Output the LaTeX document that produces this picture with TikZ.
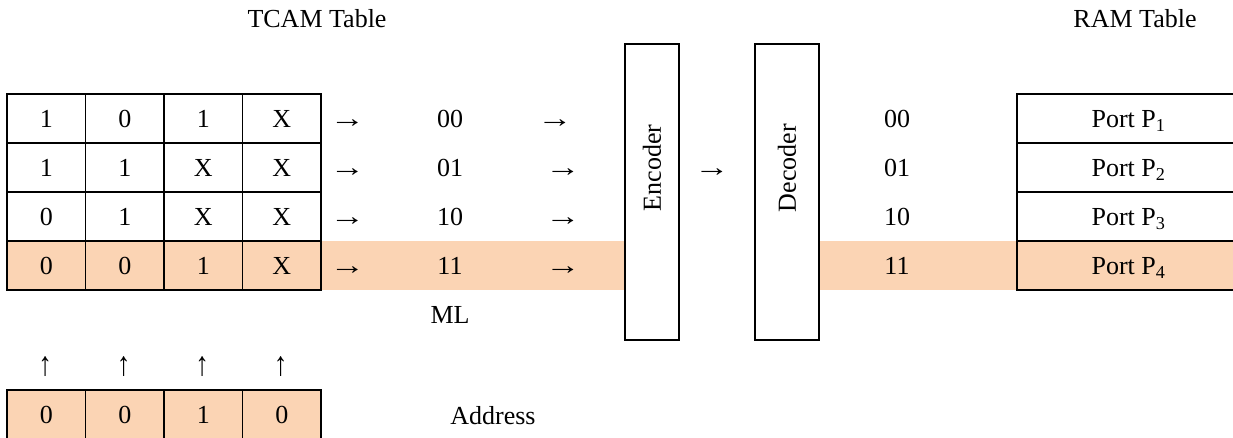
\documentclass[tikz,border=0pt]{standalone}
\usepackage{fontspec}
\setmainfont{Liberation Serif}
\definecolor{hl}{HTML}{FBD4B4}
\newcommand{\rarr}{\scalebox{1.35}[1.05]{→}}
\newcommand{\uarr}{\scalebox{1.05}[1.3]{↑}}
\begin{document}
\begin{tikzpicture}[x=1pt,y=-1pt,
  font=\fontsize{26}{30}\selectfont,
  lbl/.style={inner sep=0pt, text height=17.7pt, text depth=0pt},
  cell/.style={lbl, draw, line width=1.6pt, minimum width=78.5pt, minimum height=49pt},
  portcell/.style={lbl, draw, line width=1.6pt, minimum width=223pt, minimum height=49pt},
  unit/.style={draw, line width=1.6pt, inner sep=0pt},
  glyph/.style={inner sep=0pt}]
\useasboundingbox (0,0) rectangle (1233,438);

% highlighted matching line
\fill[hl] (321,241) rectangle (625,290);
\fill[hl] (819,241) rectangle (1017,290);

% titles
\node[lbl] (ttcam) at (317,19) {TCAM Table};
\node[lbl] (tram) at (1135,19) {RAM Table};

% TCAM entries
\foreach \r/\a/\b/\c/\d in {1/1/0/1/X, 2/1/1/X/X, 3/0/1/X/X, 4/0/0/1/X}{
  \ifnum\r=4 \def\fc{hl}\else\def\fc{white}\fi
  \foreach \k/\v in {1/\a, 2/\b, 3/\c, 4/\d}{
    \node[cell, fill=\fc] (t\r\k) at ({7+78.5*(\k-0.5)},{94+49*(\r-0.5)}) {\v};
  }
}

% match lines
\foreach \r/\code/\xb in {1/00/555, 2/01/563, 3/10/563, 4/11/563}{
  \node[lbl] (ma\r) at (347.5,{94+49*(\r-0.5)}) {\rarr};
  \node[lbl] (ml\r) at (450,{94+49*(\r-0.5)}) {\code};
  \node[lbl] (mb\r) at (\xb,{94+49*(\r-0.5)}) {\rarr};
}
\node[lbl] (mltxt) at (450,314.5) {ML};

% encoder and decoder
\node[unit, minimum width=54pt, minimum height=296pt] (enc) at (652,192) {};
\node[lbl, rotate=90] (enctxt) at (652,168) {Encoder};
\node[lbl] (ed) at (712,168) {\rarr};
\node[unit, minimum width=64pt, minimum height=296pt] (dec) at (787,192) {};
\node[lbl, rotate=90] (dectxt) at (787,168) {Decoder};

% RAM table
\foreach \r/\code in {1/00, 2/01, 3/10, 4/11}{
  \ifnum\r=4 \def\fc{hl}\else\def\fc{white}\fi
  \node[lbl] (rc\r) at (897,{94+49*(\r-0.5)}) {\code};
  \node[portcell, fill=\fc] (p\r) at (1128.5,{94+49*(\r-0.5)}) {Port P\textsubscript{\r}};
}

% search key
\foreach \k/\v in {1/0, 2/0, 3/1, 4/0}{
  \node[cell, fill=hl] (k\k) at ({7+78.5*(\k-0.5)},414.5) {\v};
  \node[glyph] (u\k) at ({7+78.5*(\k-0.5)-1},367) {\uarr};
}
\node[lbl] (addr) at (493,416) {Address};
\end{tikzpicture}
\end{document}
